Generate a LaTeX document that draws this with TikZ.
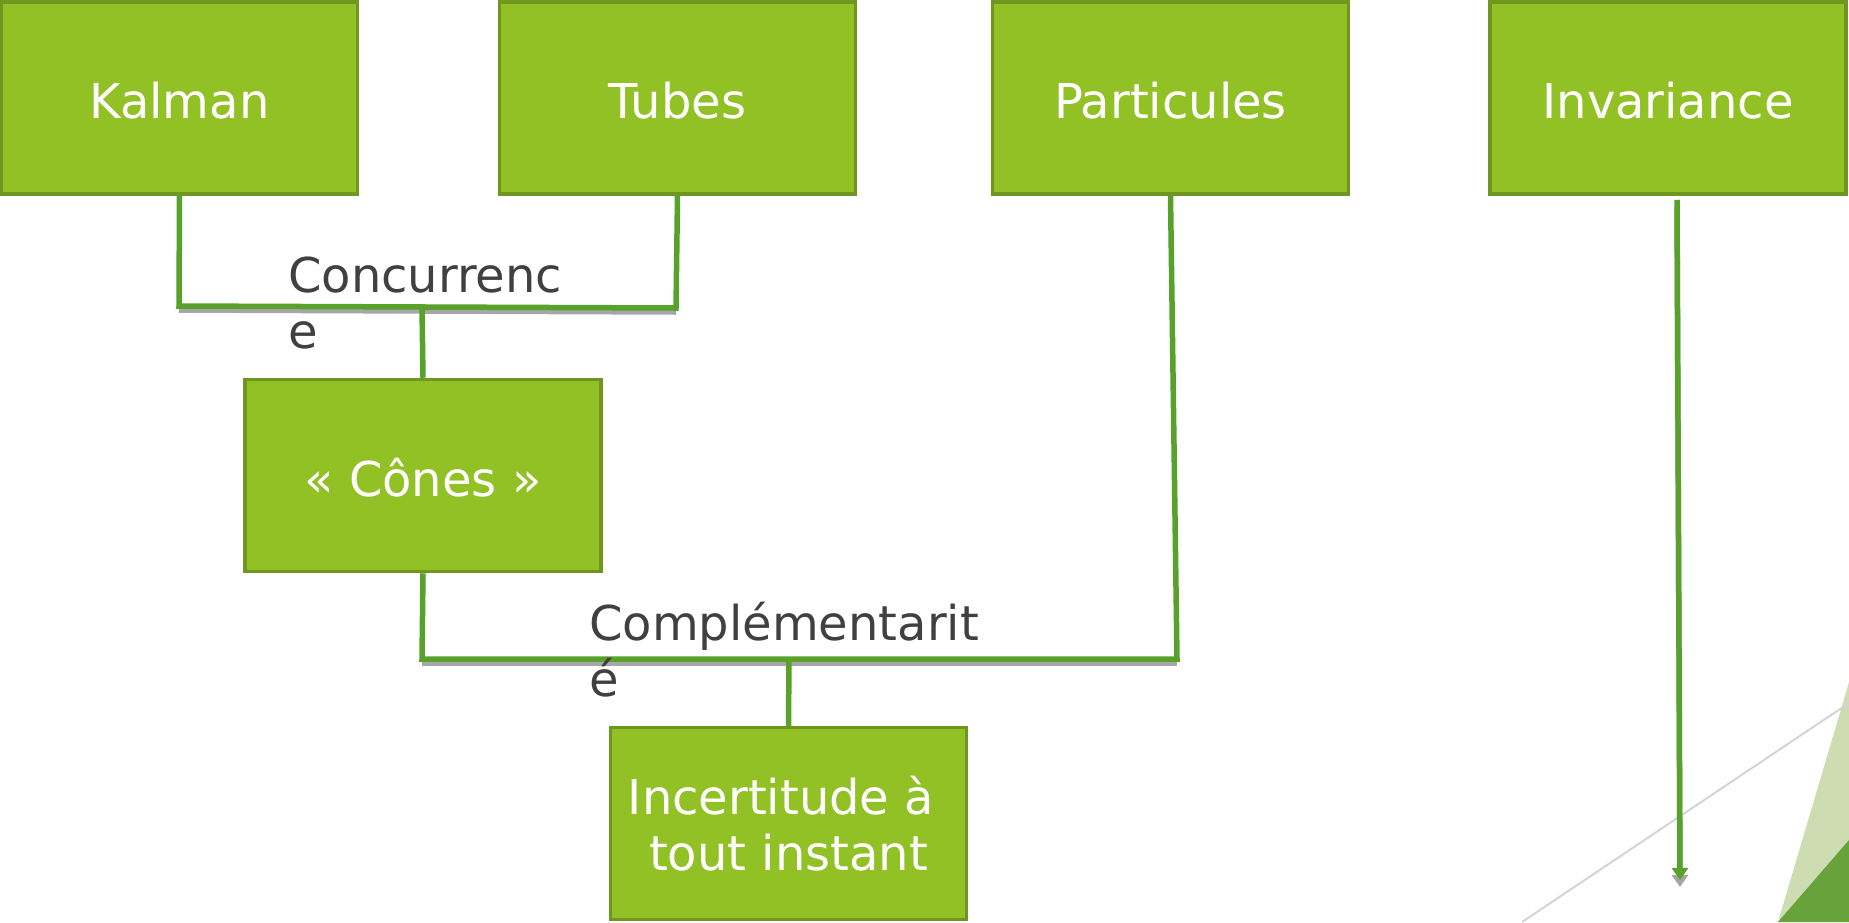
\documentclass[tikz,border=0pt]{standalone}
\usepackage{fontspec}
\setmainfont{DejaVu Sans}
\usetikzlibrary{arrows.meta}
\definecolor{boxfill}{HTML}{92C126}
\definecolor{boxline}{HTML}{6F961F}
\definecolor{conn}{HTML}{58A12A}
\definecolor{shadowgray}{HTML}{A6A6A6}
\definecolor{lbltext}{HTML}{404040}
\definecolor{lightgreen}{HTML}{CEDCB2}
\definecolor{darkgreen}{HTML}{67A23A}
\definecolor{thingray}{HTML}{D4D4D4}
\begin{document}
\begin{tikzpicture}[x=1pt,y=-1pt,
  box/.style={draw=boxline, fill=boxfill, line width=3.5pt, minimum width=356pt,
    minimum height=192pt, inner sep=0pt, text=white,
    font=\fontsize{48}{56}\selectfont, align=center},
  onebox/.style={box, text height=41pt, text depth=0pt},
  lbl/.style={text=lbltext, font=\fontsize{48}{56}\selectfont, align=left, inner sep=0pt},
  wire/.style={draw=conn, line width=5.5pt},
  shade/.style={draw=shadowgray, line width=5.5pt}]
\useasboundingbox (0,0) rectangle (1849,922);
% decoration
\fill[lightgreen] (1778,922) -- (1849,682) -- (1849,922) -- cycle;
\fill[darkgreen] (1778,922) -- (1849,840) -- (1849,922) -- cycle;
\draw[thingray, line width=2pt] (1522,922) -- (1849,703);
% boxes
\node[onebox] (kalman) at (179.5,98) {Kalman};
\node[onebox] (tubes) at (677.5,98) {Tubes};
\node[onebox] (part) at (1170.5,98) {Particules};
\node[onebox] (inv) at (1668,98) {Invariance};
\node[onebox] (cones) at (423,475.5) {« Cônes »};
\node[box] (inc) at (788.5,823.5) {Incertitude à\kern15pt\\tout instant};
% junctions
\coordinate (j1) at (179,306);
\coordinate (j2) at (676,308);
\coordinate (j3) at (422,307);
\coordinate (j4) at (422,659);
\coordinate (j5) at (1177,659);
\coordinate (j6) at (789,659);
\coordinate (invstart) at ([xshift=9pt,yshift=-4pt]inv.south);
\coordinate (invend) at (1680,880);
% shadows
\draw[shade] ([yshift=-4pt]j1) -- ([yshift=-4pt]j2);
\draw[shade] ([yshift=-4pt]j4) -- ([yshift=-4pt]j5);
\draw[shade, -{Triangle[width=16pt,length=12pt]}] ([yshift=-7pt]invstart) -- ([yshift=-7pt]invend);
% connectors
\draw[wire] (kalman.south) -- (j1) -- (j2) -- (tubes.south);
\draw[wire] (j3) -- (cones.north);
\draw[wire] (cones.south) -- (j4) -- (j5) -- (part.south);
\draw[wire] (j6) -- (inc.north);
\draw[wire, -{Triangle[width=16pt,length=12pt]}] (invstart) -- (invend);
% labels (base anchor = baseline of the last line)
\node[lbl, anchor=base west] (conc) at (288,348) {Concurrenc\\e};
\node[lbl, anchor=base west] (compl) at (589,696) {Complémentarit\\é};
\end{tikzpicture}
\end{document}
